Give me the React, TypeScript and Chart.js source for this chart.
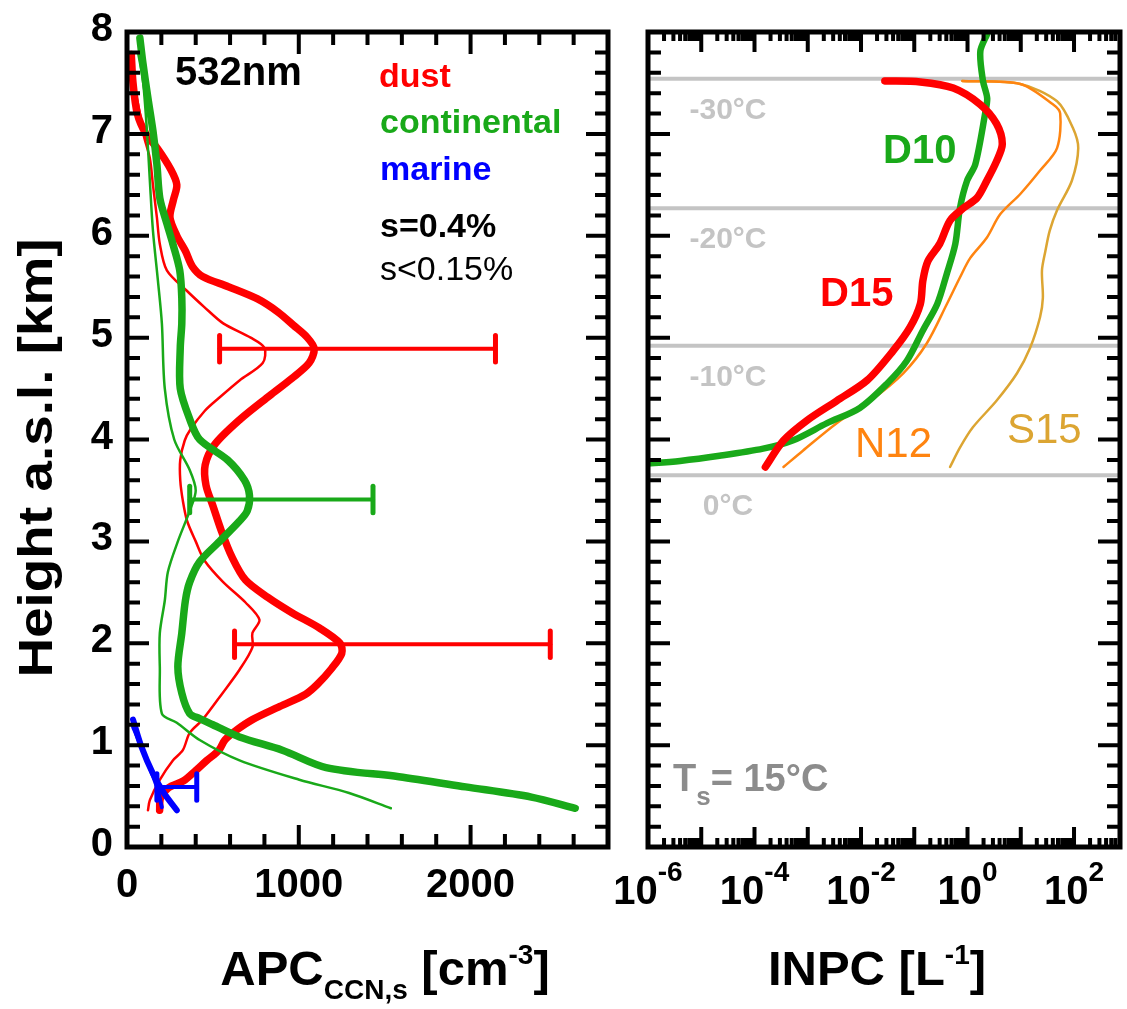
import React, { useEffect, useRef } from 'react';
import { Chart, registerables } from 'chart.js';

Chart.register(...registerables);

const W = 1127;
const H = 1009;
const FONT = "'Liberation Sans', Arial, Helvetica, sans-serif";

// ---------------- left panel: APC (CCN) profiles ----------------
const dustThickH = [7.78, 7.5, 7.2, 7.0, 6.85, 6.65, 6.5, 6.35, 6.18, 6.0, 5.85, 5.7, 5.6, 5.5, 5.38, 5.25, 5.12, 5.0, 4.89, 4.75, 4.6, 4.43, 4.2, 3.95, 3.75, 3.55, 3.35, 3.1, 2.85, 2.62, 2.45, 2.3, 2.15, 2.0, 1.9, 1.75, 1.6, 1.5, 1.38, 1.25, 1.15, 1.05, 0.95, 0.85, 0.75, 0.65, 0.58, 0.48, 0.36];
const dustThickV = [25, 35, 60, 110, 180, 255, 290, 270, 250, 290, 340, 380, 440, 590, 760, 880, 970, 1050, 1090, 1060, 960, 830, 660, 510, 455, 460, 500, 550, 610, 690, 820, 960, 1120, 1240, 1250, 1190, 1110, 1040, 890, 730, 640, 570, 535, 465, 400, 330, 240, 195, 190];

const dustThinH = [7.8, 7.5, 7.2, 7.0, 6.76, 6.5, 6.18, 5.92, 5.66, 5.46, 5.3, 5.14, 5.0, 4.9, 4.75, 4.58, 4.4, 4.28, 4.1, 3.99, 3.8, 3.6, 3.4, 3.2, 3.0, 2.81, 2.6, 2.4, 2.23, 2.1, 1.96, 1.74, 1.51, 1.25, 1.12, 0.95, 0.85, 0.66, 0.46, 0.36];
const dustThinV = [17, 40, 75, 95, 133, 151, 174, 191, 232, 348, 450, 560, 720, 800, 790, 655, 530, 452, 370, 336, 310, 310, 325, 350, 400, 452, 560, 690, 771, 730, 730, 655, 556, 440, 365, 325, 267, 191, 133, 122];

const contThickH = [7.94, 7.69, 7.35, 7.03, 6.7, 6.37, 6.12, 5.92, 5.66, 5.39, 5.14, 4.9, 4.5, 4.2, 4.0, 3.8, 3.6, 3.45, 3.3, 3.2, 3.0, 2.8, 2.6, 2.42, 2.1, 1.77, 1.51, 1.31, 1.26, 1.2, 1.08, 0.95, 0.78, 0.69, 0.59, 0.49, 0.38];
const contThickV = [75, 93, 122, 151, 174, 191, 232, 267, 307, 319, 319, 310, 310, 365, 423, 585, 684, 713, 700, 655, 539, 423, 365, 340, 319, 296, 319, 365, 423, 500, 655, 904, 1159, 1583, 1971, 2354, 2609];

const contThinH = [7.8, 7.52, 7.03, 6.54, 6.05, 5.56, 5.14, 4.5, 4.0, 3.7, 3.5, 3.3, 3.0, 2.7, 2.42, 2.1, 1.77, 1.31, 1.22, 1.05, 0.85, 0.66, 0.53, 0.38];
const contThinV = [64, 93, 116, 133, 151, 180, 203, 220, 275, 365, 400, 365, 296, 238, 220, 191, 191, 203, 290, 423, 655, 1003, 1293, 1536];

const marineThickH = [1.25, 0.98, 0.72, 0.53, 0.36];
const marineThickV = [35, 85, 151, 215, 290];
const marineThinH = [1.18, 0.85, 0.59, 0.39];
const marineThinV = [35, 116, 174, 203];

// error bars: height, low, high, colour key
const errH = [4.89, 1.99, 3.41, 0.59];
const errLo = [539, 626, 365, 174];
const errHi = [2145, 2464, 1432, 406];
const errKind = ['dust', 'dust', 'continental', 'marine'];

const apcTickLabels = [0, 1000, 2000];
const heightTickLabels = [0, 1, 2, 3, 4, 5, 6, 7, 8];

// ---------------- right panel: INPC profiles ----------------
const d10H = [7.98, 7.81, 7.52, 7.35, 7.2, 6.7, 6.54, 6.27, 5.92, 5.63, 5.33, 5.07, 4.77, 4.55, 4.31, 4.16, 3.99, 3.91, 3.84, 3.79, 3.76];
const d10V = [2.34, 1.74, 1.95, 2.34, 2.14, 1.4, 0.98, 0.72, 0.59, 0.41, 0.27, 0.145, 0.072, 0.031, 0.0095, 0.0023, 5.2e-4, 1.45e-4, 2.2e-5, 4e-6, 8e-7];

const d15H = [7.52, 7.51, 7.45, 7.29, 7.1, 6.9, 6.73, 6.54, 6.37, 6.27, 6.15, 5.92, 5.75, 5.56, 5.33, 5.1, 4.87, 4.58, 4.38, 4.19, 3.99, 3.73];
const d15V = [0.028, 0.13, 0.54, 1.72, 3.5, 4.5, 3.5, 2.3, 1.5, 0.83, 0.47, 0.3, 0.18, 0.145, 0.13, 0.083, 0.04, 0.013, 0.0035, 9.8e-4, 3.5e-4, 1.6e-4];

const n12H = [7.52, 7.49, 7.29, 7.2, 6.86, 6.64, 6.41, 6.21, 5.98, 5.78, 5.59, 5.33, 4.94, 4.65, 4.38, 4.16, 3.89, 3.73];
const n12V = [0.8, 9.8, 40, 55, 48, 23, 9.8, 4.1, 2.3, 1.12, 0.72, 0.41, 0.17, 0.062, 0.015, 0.0035, 8.1e-4, 3.5e-4];

const s15H = [7.52, 7.49, 7.32, 7.06, 6.86, 6.54, 6.25, 6.05, 5.85, 5.66, 5.39, 5.2, 4.9, 4.65, 4.38, 4.12, 3.92, 3.73];
const s15V = [0.8, 9.8, 48, 95, 120, 91, 48, 35, 29, 25, 26, 23, 15, 8.5, 3.5, 1.26, 0.72, 0.47];

const isoH = [7.54, 6.27, 4.92, 3.65];
const isoLabels = ['-30°C', '-20°C', '-10°C', '0°C'];
const logTickExps = [-6, -4, -2, 0, 2];

// ---------------- styles ----------------
const RED = '#ff0000';
const GREEN = '#19a919';
const BLUE = '#0000ff';
const ORANGE = '#ff8410';
const GOLD = '#dca532';
const ISO = '#c4c4c4';
const colorOf: Record<string, string> = { dust: RED, continental: GREEN, marine: BLUE };

const LEFT_AREA = { left: 127, right: 608, top: 32, bottom: 847 };
const RIGHT_AREA = { left: 648, right: 1120, top: 32, bottom: 847 };
const CAP = 0.13;
const TICK_FS = 40;
const TITLE_FS = 49;

type Seg = { t: string; size: number; bold?: boolean; dy?: number };

function fnt(size: number, bold?: boolean) {
  return `${bold ? 'bold ' : ''}${size}px ${FONT}`;
}

function drawRich(ctx: CanvasRenderingContext2D, segs: Seg[], x: number, y: number, align: 'left' | 'center' | 'right', color: string, sx = 1) {
  ctx.save();
  ctx.textBaseline = 'alphabetic';
  ctx.textAlign = 'left';
  ctx.fillStyle = color;
  const widths = segs.map((s) => {
    ctx.font = fnt(s.size, s.bold);
    return ctx.measureText(s.t).width * sx;
  });
  const total = widths.reduce((a, b) => a + b, 0);
  let cx = align === 'left' ? x : align === 'center' ? x - total / 2 : x - total;
  segs.forEach((s, i) => {
    ctx.font = fnt(s.size, s.bold);
    ctx.save();
    ctx.translate(cx, y + (s.dy || 0));
    ctx.scale(sx, 1);
    ctx.fillText(s.t, 0, 0);
    ctx.restore();
    cx += widths[i];
  });
  ctx.restore();
}

const pts = (h: number[], v: number[]) => h.map((y, i) => ({ x: v[i], y }));

function line(data: { x: number; y: number }[], color: string, width: number, tension = 0.3) {
  return {
    data,
    showLine: true,
    borderColor: color,
    backgroundColor: color,
    borderWidth: width,
    pointRadius: 0,
    pointHoverRadius: 0,
    tension,
    borderCapStyle: 'round',
    borderJoinStyle: 'round',
  };
}

function drawFrame(ctx: CanvasRenderingContext2D, a: any) {
  ctx.save();
  ctx.strokeStyle = '#000';
  ctx.lineWidth = 5;
  ctx.strokeRect(a.left, a.top, a.right - a.left, a.bottom - a.top);
  ctx.restore();
}

function drawXTicks(ctx: CanvasRenderingContext2D, a: any, xs: any, ticks: { v: number; major: boolean }[], majLen: number, minLen: number) {
  ctx.save();
  ctx.strokeStyle = '#000';
  ctx.lineWidth = 4;
  ctx.beginPath();
  ticks.forEach((t) => {
    const p = xs.getPixelForValue(t.v);
    if (p <= a.left + 2 || p >= a.right - 2) return;
    const len = t.major ? majLen : minLen;
    ctx.moveTo(p, a.bottom);
    ctx.lineTo(p, a.bottom - len);
    ctx.moveTo(p, a.top);
    ctx.lineTo(p, a.top + len);
  });
  ctx.stroke();
  ctx.restore();
}

function drawYTicks(ctx: CanvasRenderingContext2D, a: any, ys: any) {
  ctx.save();
  ctx.strokeStyle = '#000';
  ctx.lineWidth = 4;
  ctx.beginPath();
  for (let k = 1; k < 40; k++) {
    const p = ys.getPixelForValue(k * 0.2);
    const len = k % 5 === 0 ? 22 : 13;
    ctx.moveTo(a.left, p);
    ctx.lineTo(a.left + len, p);
    ctx.moveTo(a.right, p);
    ctx.lineTo(a.right - len, p);
  }
  ctx.stroke();
  ctx.restore();
}

const leftDeco = {
  id: 'leftDeco',
  afterDraw(chart: any) {
    const { ctx, chartArea: a, scales } = chart;
    const xs = scales.x;
    const ys = scales.y;
    drawFrame(ctx, a);
    const xt: { v: number; major: boolean }[] = [];
    for (let v = 200; v < 2800; v += 200) xt.push({ v, major: v % 1000 === 0 });
    drawXTicks(ctx, a, xs, xt, 22, 13);
    drawYTicks(ctx, a, ys);
    // tick labels
    heightTickLabels.forEach((v) => {
      drawRich(ctx, [{ t: String(v), size: TICK_FS, bold: true }], 113, ys.getPixelForValue(v) + 9, 'right', '#000');
    });
    apcTickLabels.forEach((v) => {
      drawRich(ctx, [{ t: String(v), size: TICK_FS, bold: true }], xs.getPixelForValue(v), 897, 'center', '#000');
    });
    // axis titles
    drawRich(ctx, [
      { t: 'APC', size: TITLE_FS, bold: true },
      { t: 'CCN,s', size: 28, bold: true, dy: 14 },
      { t: ' [cm', size: TITLE_FS, bold: true },
      { t: '-3', size: 28, bold: true, dy: -21 },
      { t: ']', size: TITLE_FS, bold: true },
    ], 385, 985, 'center', '#000');
    ctx.save();
    ctx.translate(52, 458);
    ctx.rotate(-Math.PI / 2);
    drawRich(ctx, [{ t: 'Height a.s.l. [km]', size: TITLE_FS, bold: true }], 0, 0, 'center', '#000', 1.12);
    ctx.restore();
    // legend texts
    drawRich(ctx, [{ t: '532nm', size: 40, bold: true }], 175, 85, 'left', '#000');
    drawRich(ctx, [{ t: 'dust', size: 34, bold: true }], 379, 87, 'left', RED);
    drawRich(ctx, [{ t: 'continental', size: 34, bold: true }], 380, 133, 'left', GREEN);
    drawRich(ctx, [{ t: 'marine', size: 34, bold: true }], 380, 180, 'left', BLUE);
    drawRich(ctx, [{ t: 's=0.4%', size: 34, bold: true }], 380, 237, 'left', '#000');
    drawRich(ctx, [{ t: 's<0.15%', size: 34, bold: false }], 380, 280, 'left', '#000');
  },
};

const rightDeco = {
  id: 'rightDeco',
  afterDraw(chart: any) {
    const { ctx, chartArea: a, scales } = chart;
    const xs = scales.x;
    const ys = scales.y;
    drawFrame(ctx, a);
    const xt: { v: number; major: boolean }[] = [];
    for (let n = -6; n <= 2; n++) {
      for (let m = 1; m <= 9; m++) xt.push({ v: m * Math.pow(10, n), major: m === 1 });
    }
    drawXTicks(ctx, a, xs, xt, 20, 9);
    drawYTicks(ctx, a, ys);
    logTickExps.forEach((n) => {
      drawRich(ctx, [
        { t: '10', size: TICK_FS, bold: true },
        { t: String(n), size: 28, bold: true, dy: -23 },
      ], xs.getPixelForValue(Math.pow(10, n)), 904, 'center', '#000');
    });
    drawRich(ctx, [
      { t: 'INPC [L', size: TITLE_FS, bold: true },
      { t: '-1', size: 28, bold: true, dy: -21 },
      { t: ']', size: TITLE_FS, bold: true },
    ], 877, 985, 'center', '#000');
    // isotherm labels
    isoH.forEach((h, i) => {
      drawRich(ctx, [{ t: isoLabels[i], size: 30, bold: true }], 728, ys.getPixelForValue(h) + 40, 'center', ISO);
    });
    // profile labels
    drawRich(ctx, [{ t: 'D10', size: 40, bold: true }], 883, 163, 'left', GREEN);
    drawRich(ctx, [{ t: 'D15', size: 40, bold: true }], 820, 306, 'left', RED);
    drawRich(ctx, [{ t: 'N12', size: 42 }], 855, 457, 'left', ORANGE);
    drawRich(ctx, [{ t: 'S15', size: 42 }], 1007, 443, 'left', GOLD);
    drawRich(ctx, [
      { t: 'T', size: 38, bold: true },
      { t: 's', size: 26, bold: true, dy: 14 },
      { t: '= 15°C', size: 38, bold: true },
    ], 673, 791, 'left', '#8c8c8c');
  },
};

function leftConfig(): any {
  const datasets: any[] = [];
  datasets.push(line(pts(marineThickH, marineThickV), BLUE, 6));
  datasets.push(line(pts(marineThinH, marineThinV), BLUE, 4));
  errH.forEach((h, i) => {
    const c = colorOf[errKind[i]];
    datasets.push(line([{ x: errLo[i], y: h }, { x: errHi[i], y: h }], c, 4, 0));
    datasets.push(line([{ x: errLo[i], y: h - CAP }, { x: errLo[i], y: h + CAP }], c, 5, 0));
    datasets.push(line([{ x: errHi[i], y: h - CAP }, { x: errHi[i], y: h + CAP }], c, 5, 0));
  });
  datasets.push(line(pts(contThickH, contThickV), GREEN, 7.5));
  datasets.push(line(pts(contThinH, contThinV), GREEN, 2.5));
  datasets.push(line(pts(dustThickH, dustThickV), RED, 7.5));
  datasets.push(line(pts(dustThinH, dustThinV), RED, 2.5));
  return {
    type: 'scatter',
    data: { datasets },
    options: {
      responsive: false,
      animation: false,
      devicePixelRatio: 1,
      events: [],
      layout: { padding: { left: LEFT_AREA.left, right: W - LEFT_AREA.right, top: LEFT_AREA.top, bottom: H - LEFT_AREA.bottom } },
      plugins: { legend: { display: false }, tooltip: { enabled: false } },
      scales: {
        x: { type: 'linear', min: 0, max: 2800, display: false },
        y: { type: 'linear', min: 0, max: 8, display: false },
      },
    },
    plugins: [leftDeco],
  };
}

function rightConfig(): any {
  const datasets: any[] = [];
  datasets.push(line(pts(d15H, d15V), RED, 7.5));
  datasets.push(line(pts(d10H, d10V), GREEN, 6.5));
  datasets.push(line(pts(n12H, n12V), ORANGE, 2.5));
  datasets.push(line(pts(s15H, s15V), GOLD, 2.5));
  isoH.forEach((h) => {
    datasets.push(line([{ x: 1e-6, y: h }, { x: 730, y: h }], ISO, 4, 0));
  });
  return {
    type: 'scatter',
    data: { datasets },
    options: {
      responsive: false,
      animation: false,
      devicePixelRatio: 1,
      events: [],
      layout: { padding: { left: RIGHT_AREA.left, right: W - RIGHT_AREA.right, top: RIGHT_AREA.top, bottom: H - RIGHT_AREA.bottom } },
      plugins: { legend: { display: false }, tooltip: { enabled: false } },
      scales: {
        x: { type: 'logarithmic', min: 1e-6, max: 730, display: false },
        y: { type: 'linear', min: 0, max: 8, display: false },
      },
    },
    plugins: [rightDeco],
  };
}

export default function App() {
  const leftRef = useRef<HTMLCanvasElement>(null);
  const rightRef = useRef<HTMLCanvasElement>(null);
  useEffect(() => {
    const c1 = new Chart(leftRef.current as HTMLCanvasElement, leftConfig());
    const c2 = new Chart(rightRef.current as HTMLCanvasElement, rightConfig());
    return () => {
      c1.destroy();
      c2.destroy();
    };
  }, []);
  const cs: React.CSSProperties = { position: 'absolute', left: 0, top: 0, width: W, height: H };
  return (
    <div style={{ position: 'absolute', left: 0, top: 0, width: W, height: H, background: '#fff', overflow: 'hidden' }}>
      <canvas ref={leftRef} width={W} height={H} style={cs} />
      <canvas ref={rightRef} width={W} height={H} style={cs} />
    </div>
  );
}
